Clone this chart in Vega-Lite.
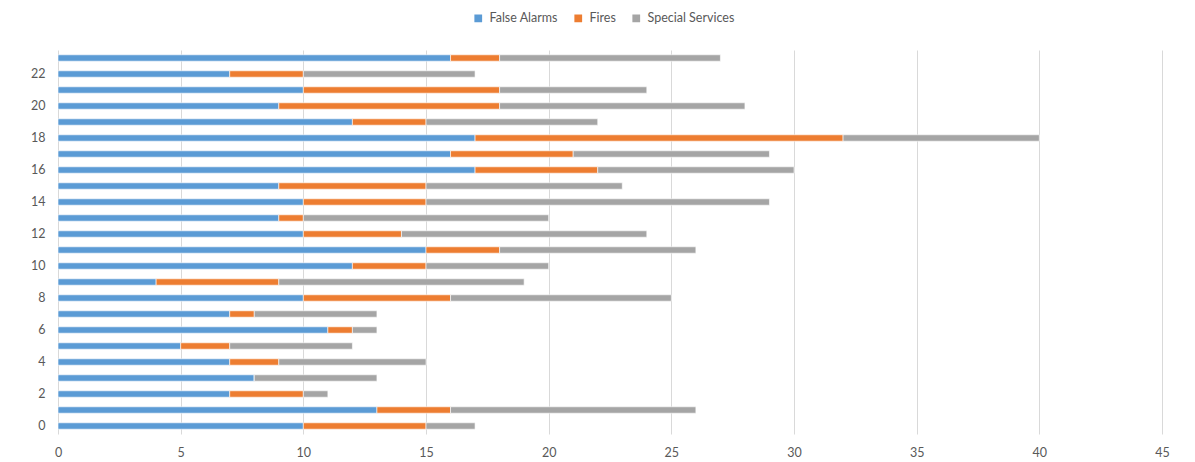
{
  "$schema": "https://vega.github.io/schema/vega-lite/v6.json",
  "width": 1104,
  "height": 384,
  "autosize": {"type": "none"},
  "padding": {"left": 58, "top": 50, "right": 33, "bottom": 28},
  "background": "white",
  "config": {
    "view": {"stroke": null},
    "font": "Lato",
    "axis": {"labelFont": "Lato", "labelFontSize": 12.5, "labelColor": "#595959", "domain": false, "ticks": false},
    "legend": {"labelFont": "Lato", "labelFontSize": 12.5, "labelColor": "#595959"}
  },
  "data": {
    "values": [
      {"row": 0, "False Alarms": 10, "Fires": 5, "Special Services": 2},
      {"row": 1, "False Alarms": 13, "Fires": 3, "Special Services": 10},
      {"row": 2, "False Alarms": 7, "Fires": 3, "Special Services": 1},
      {"row": 3, "False Alarms": 8, "Fires": 0, "Special Services": 5},
      {"row": 4, "False Alarms": 7, "Fires": 2, "Special Services": 6},
      {"row": 5, "False Alarms": 5, "Fires": 2, "Special Services": 5},
      {"row": 6, "False Alarms": 11, "Fires": 1, "Special Services": 1},
      {"row": 7, "False Alarms": 7, "Fires": 1, "Special Services": 5},
      {"row": 8, "False Alarms": 10, "Fires": 6, "Special Services": 9},
      {"row": 9, "False Alarms": 4, "Fires": 5, "Special Services": 10},
      {"row": 10, "False Alarms": 12, "Fires": 3, "Special Services": 5},
      {"row": 11, "False Alarms": 15, "Fires": 3, "Special Services": 8},
      {"row": 12, "False Alarms": 10, "Fires": 4, "Special Services": 10},
      {"row": 13, "False Alarms": 9, "Fires": 1, "Special Services": 10},
      {"row": 14, "False Alarms": 10, "Fires": 5, "Special Services": 14},
      {"row": 15, "False Alarms": 9, "Fires": 6, "Special Services": 8},
      {"row": 16, "False Alarms": 17, "Fires": 5, "Special Services": 8},
      {"row": 17, "False Alarms": 16, "Fires": 5, "Special Services": 8},
      {"row": 18, "False Alarms": 17, "Fires": 15, "Special Services": 8},
      {"row": 19, "False Alarms": 12, "Fires": 3, "Special Services": 7},
      {"row": 20, "False Alarms": 9, "Fires": 9, "Special Services": 10},
      {"row": 21, "False Alarms": 10, "Fires": 8, "Special Services": 6},
      {"row": 22, "False Alarms": 7, "Fires": 3, "Special Services": 7},
      {"row": 23, "False Alarms": 16, "Fires": 2, "Special Services": 9}
    ]
  },
  "transform": [
    {"fold": ["False Alarms", "Fires", "Special Services"], "as": ["type", "count"]}
  ],
  "mark": {"type": "bar", "stroke": "white", "strokeWidth": 0.6},
  "encoding": {
    "y": {
      "field": "row", "type": "ordinal", "sort": "descending",
      "scale": {"paddingInner": 0.6, "paddingOuter": 0.3},
      "axis": {"title": null, "values": [0,2,4,6,8,10,12,14,16,18,20,22], "labelPadding": 13, "grid": false, "labelAngle": 0}
    },
    "x": {
      "field": "count", "type": "quantitative", "stack": "zero",
      "scale": {"domain": [0, 45], "nice": false},
      "axis": {"title": null, "values": [0,5,10,15,20,25,30,35,40,45], "grid": true, "gridColor": "#d9d9d9", "gridWidth": 1, "labelPadding": 12, "labelFlush": false}
    },
    "color": {
      "field": "type", "type": "nominal",
      "scale": {"domain": ["False Alarms", "Fires", "Special Services"], "range": ["#5B9BD5", "#ED7D31", "#A5A5A5"]},
      "legend": {"title": null, "orient": "none", "direction": "horizontal", "legendX": 414, "legendY": -38, "symbolType": "square", "symbolSize": 60, "symbolStrokeWidth": 0, "labelOffset": 5, "columnPadding": 14}
    },
    "order": {"field": "type", "sort": "ascending"}
  }
}
